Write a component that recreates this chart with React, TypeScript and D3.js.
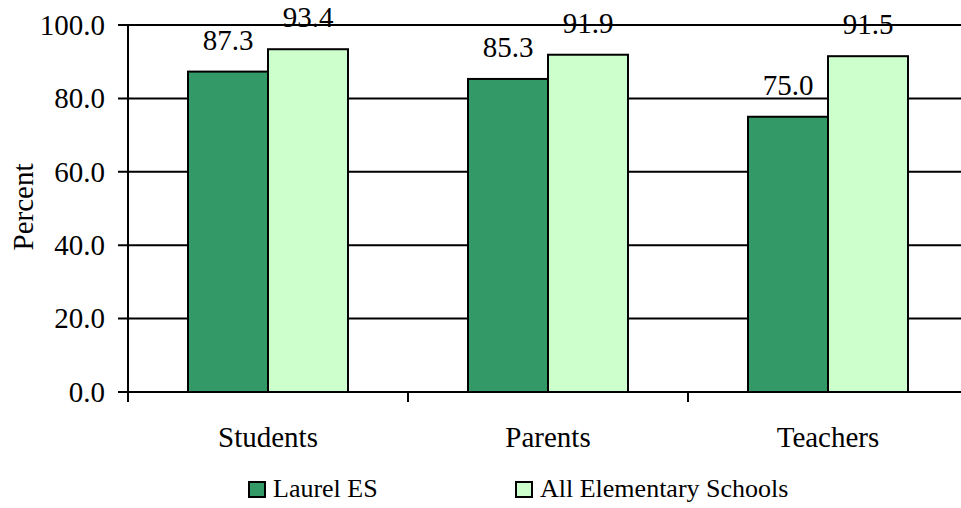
import React from "react";
import * as d3 from "d3";

const categories = ["Students", "Parents", "Teachers"];
const seriesNames = ["Laurel ES", "All Elementary Schools"];
const laurel = [87.3, 85.3, 75.0];
const allSchools = [93.4, 91.9, 91.5];
const yTicks = [0, 20, 40, 60, 80, 100];
const colors = ["#339966", "#CCFFCC"];

export default function App() {
  const W = 961, H = 508;
  const left = 128, right = 968, top = 25, bottom = 392;
  const x = d3.scaleBand<string>().domain(categories).range([left, right]).paddingInner(0).paddingOuter(0);
  const y = d3.scaleLinear().domain([0, 100]).range([bottom, top]);
  const series = [laurel, allSchools];
  const font = "Liberation Serif, Times New Roman, DejaVu Serif, serif";
  const bw = x.bandwidth();
  const barW = bw * (80 / 280);
  const offset = bw * (60 / 280);
  const fs = 29;

  return (
    <svg width={W} height={H} style={{ position: "absolute", left: 0, top: 0, fontFamily: font }}>
      <rect width={W} height={H} fill="#fff" />
      {yTicks.map((t) => (
        <g key={t}>
          <line x1={left - 10} x2={right} y1={y(t)} y2={y(t)} stroke="#000" strokeWidth={2} />
          <text x={left - 23} y={y(t)} dy="0.34em" textAnchor="end" fontSize={fs} style={{ fontFamily: font }}>{t.toFixed(1)}</text>
        </g>
      ))}
      {categories.map((c, i) => (
        <g key={c}>
          {series.map((s, j) => {
            const bx = (x(c) as number) + offset + j * barW;
            return (
              <g key={j}>
                <rect x={bx} y={y(s[i])} width={barW} height={y(0) - y(s[i])} fill={colors[j]} stroke="#000" strokeWidth={2} />
                <text x={bx + barW / 2} y={y(s[i]) - 22} textAnchor="middle" fontSize={fs} style={{ fontFamily: font }}>{s[i].toFixed(1)}</text>
              </g>
            );
          })}
          <text x={(x(c) as number) + bw / 2} y={447} textAnchor="middle" fontSize={fs} style={{ fontFamily: font }}>{c}</text>
        </g>
      ))}
      <line x1={left} x2={left} y1={top} y2={bottom + 10} stroke="#000" strokeWidth={2} />
      {categories.map((c) => (
        <line key={c} x1={(x(c) as number) + bw} x2={(x(c) as number) + bw} y1={bottom} y2={bottom + 10} stroke="#000" strokeWidth={2} />
      ))}
      <text transform={`translate(33,207) rotate(-90)`} textAnchor="middle" fontSize={fs} style={{ fontFamily: font }}>Percent</text>
      {seriesNames.map((n, j) => {
        const lx = [249, 516][j];
        return (
          <g key={n}>
            <rect x={lx} y={482} width={16} height={15} fill={colors[j]} stroke="#000" strokeWidth={2} />
            <text x={lx + 24} y={497} fontSize={26} style={{ fontFamily: font }}>{n}</text>
          </g>
        );
      })}
    </svg>
  );
}
